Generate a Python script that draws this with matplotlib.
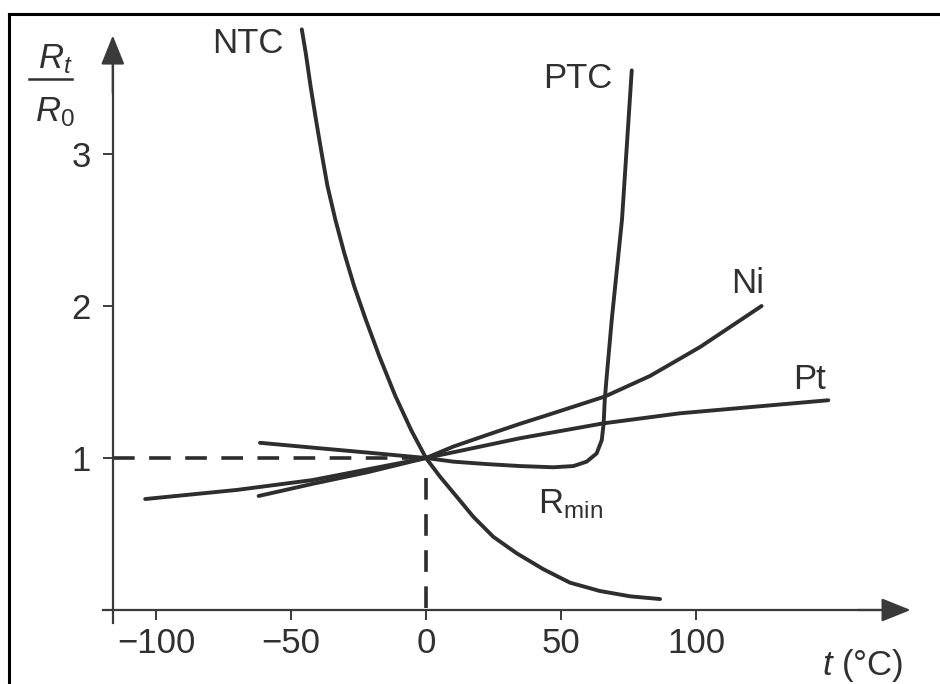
import matplotlib
matplotlib.use("Agg")
import matplotlib.pyplot as plt
from matplotlib.lines import Line2D

plt.rcParams['font.family'] = ['Liberation Sans', 'DejaVu Sans']
plt.rcParams['mathtext.fontset'] = 'custom'
plt.rcParams['mathtext.rm'] = 'Liberation Sans'
plt.rcParams['mathtext.it'] = 'Liberation Sans:italic'
plt.rcParams['mathtext.bf'] = 'Liberation Sans:bold'

# ---- data ----
ntc_t = [-46.0, -44.5, -42.7, -40.7, -38.6, -36.5, -33.6, -30.3, -26.6, -22.3, -17.3,
         -11.4, -5.4, 0, 5.2, 11.4, 17.5, 24.9, 33.6, 43.5, 53.3, 64.4, 75.6, 86.7]
ntc_r = [3.82, 3.66, 3.44, 3.22, 3.00, 2.79, 2.57, 2.35, 2.13, 1.91, 1.67,
         1.41, 1.18, 1.0, 0.877, 0.745, 0.614, 0.482, 0.373, 0.268, 0.18, 0.125, 0.09, 0.072]

ptc_t = [-61.5, -40, -20, 0, 10.1, 22.5, 34.8, 47.2, 54.6, 59.5, 63.2, 65.1, 65.8,
         66.2, 66.8, 68.8, 72.6, 76.2]
ptc_r = [1.10, 1.065, 1.033, 1.0, 0.976, 0.96, 0.947, 0.939, 0.947, 0.976, 1.03, 1.118, 1.228,
         1.38, 1.51, 1.91, 2.57, 3.55]

ni_t = [-62, -42, -22, 0, 10.1, 22.5, 34.8, 47.2, 66.3, 83, 101.5, 124.3]
ni_r = [0.75, 0.83, 0.905, 1.0, 1.075, 1.151, 1.225, 1.295, 1.405, 1.54, 1.73, 2.0]

pt_t = [-104, -70, -42, 0, 34.8, 65.7, 94, 149]
pt_r = [0.73, 0.79, 0.855, 1.0, 1.13, 1.228, 1.294, 1.38]

x_ticks = [-100, -50, 0, 50, 100]
y_ticks = [1, 2, 3]

# ---- figure ----
W, H = 940, 684
fig = plt.figure(figsize=(W / 100, H / 100), dpi=100)
ax = fig.add_axes([0, 0, 1, 1])
ax.set_xlim(-426 / 2.7, (W - 426) / 2.7)
ax.set_ylim((610 - H) / 152, 610 / 152)

curve_col = '#2e2e2e'
axis_col = '#3a3a3a'
text_col = '#303030'
lw = 2.8

for t, r in [(ntc_t, ntc_r), (ptc_t, ptc_r), (ni_t, ni_r), (pt_t, pt_r)]:
    ax.plot(t, r, color=curve_col, lw=lw, solid_capstyle='round', solid_joinstyle='round')

# dashed reference lines at R/R0 = 1 and t = 0
y_axis_pos = -116
ax.plot([y_axis_pos, 0], [1, 1], color=curve_col, lw=2.6, dashes=(6.0, 4.0))
ax.plot([0, 0], [0.87, 0], color=curve_col, lw=2.6, dashes=(6.0, 4.0))

# axes
for s in ['top', 'right']:
    ax.spines[s].set_visible(False)
ax.spines['left'].set_position(('data', y_axis_pos))
ax.spines['bottom'].set_position(('data', 0))
ax.spines['left'].set_bounds(-0.085, 3.6)
ax.spines['bottom'].set_bounds(-119.6, 170)
for s in ['left', 'bottom']:
    ax.spines[s].set_color(axis_col)
    ax.spines[s].set_linewidth(1.6)

arrow_style = '-|>,head_length=0.82,head_width=0.33'
ax.annotate('', xy=(y_axis_pos, 3.78), xytext=(y_axis_pos, 3.4),
            arrowprops=dict(arrowstyle=arrow_style, color=axis_col, lw=1.6,
                            shrinkA=0, shrinkB=0, mutation_scale=22))
ax.annotate('', xy=(179.5, 0), xytext=(160, 0),
            arrowprops=dict(arrowstyle=arrow_style, color=axis_col, lw=1.6,
                            shrinkA=0, shrinkB=0, mutation_scale=22))

ax.set_xticks(x_ticks)
ax.set_yticks(y_ticks)
ax.set_xticklabels([f'{v}'.replace('-', '\u2212') for v in x_ticks])
ax.set_yticklabels([f'{v}' for v in y_ticks])
ax.tick_params(axis='both', direction='out', length=7, width=1.4, color=axis_col,
               labelsize=25, labelcolor=text_col)
ax.tick_params(axis='x', pad=5)
ax.tick_params(axis='y', pad=9)
ax.patch.set_alpha(0)

# curve labels
fs = 25
ax.text(-65.9, 3.665, 'NTC', fontsize=fs, color=text_col, ha='center', va='baseline')
ax.text(56.3, 3.434, 'PTC', fontsize=fs, color=text_col, ha='center', va='baseline')
ax.text(119.3, 2.086, 'Ni', fontsize=fs, color=text_col, ha='center', va='baseline')
ax.text(142.2, 1.454, 'Pt', fontsize=fs, color=text_col, ha='center', va='baseline')
ax.text(41.5, 0.638, r'R$_{\mathrm{min}}$', fontsize=fs, color=text_col, ha='left', va='baseline')
ax.text(146.7, -0.428, r'$t$ (°C)', fontsize=fs, color=text_col, ha='left', va='baseline')

# y-axis label as a fraction
def fx(px):
    return px / W

def fy(py):
    return 1 - py / H

fig.text(fx(55), fy(68), r'$R_t$', fontsize=fs, color=text_col, ha='center', va='baseline')
fig.text(fx(55), fy(121), r'$R_{\mathrm{0}}$', fontsize=fs, color=text_col, ha='center', va='baseline')
fig.add_artist(Line2D([fx(29), fx(72)], [fy(79), fy(79)], color=text_col, lw=1.8,
                      transform=fig.transFigure))

# picture frame (top and left edges)
fig.add_artist(Line2D([fx(9), 1], [fy(14), fy(14)], color='black', lw=2.2, transform=fig.transFigure))
fig.add_artist(Line2D([fx(9), fx(9)], [fy(14), 0], color='black', lw=2.2, transform=fig.transFigure))

fig.savefig('out.png', dpi=100)
